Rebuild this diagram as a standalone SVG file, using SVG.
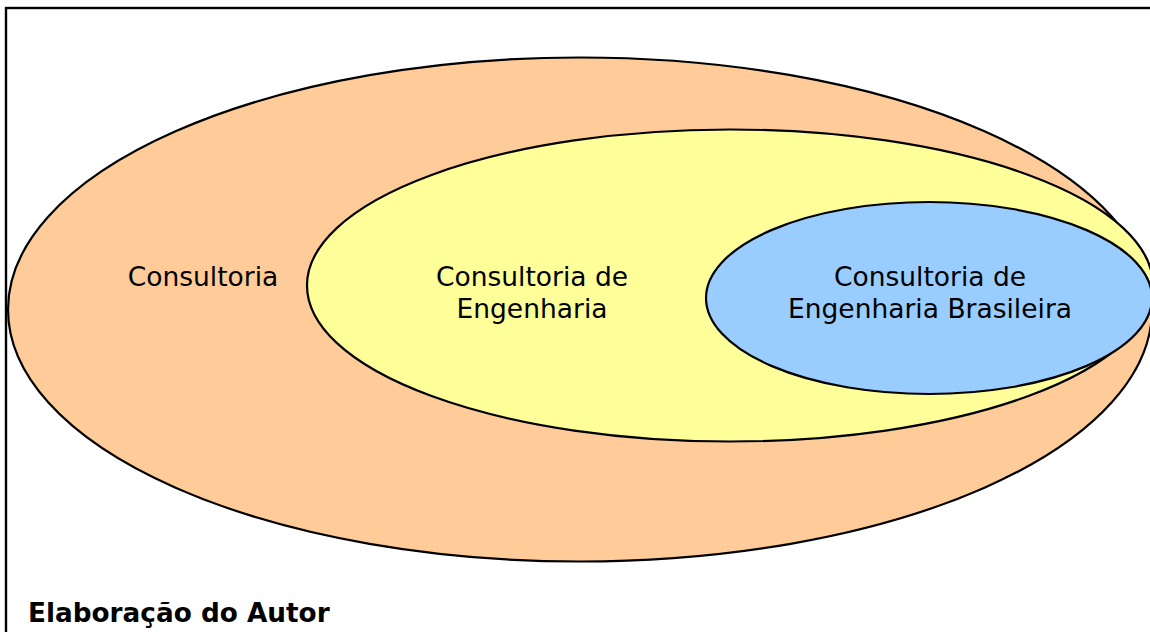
<svg xmlns="http://www.w3.org/2000/svg" width="1150" height="632" viewBox="0 0 1150 632">
<style>
.e{stroke:#000;stroke-width:2.2}
.t{font-family:"DejaVu Sans",Verdana,sans-serif;font-size:26.5px;fill:#000;text-anchor:middle}
.b{font-family:"DejaVu Sans",Verdana,sans-serif;font-size:26.3px;font-weight:bold;fill:#000}
</style>
<rect width="1150" height="632" fill="#fff"/>
<rect x="6" y="8" width="1160" height="640" fill="none" stroke="#000" stroke-width="2.4"/>
<g id="consultoria">
<ellipse class="e" cx="580" cy="309.5" rx="572" ry="252" fill="#ffcc99"/>
<text class="t" x="203" y="286">Consultoria</text>
</g>
<g id="consultoria-engenharia">
<ellipse class="e" cx="730" cy="285.5" rx="423" ry="156" fill="#ffff99"/>
<text class="t" x="532" y="286">Consultoria de</text>
<text class="t" x="532" y="318">Engenharia</text>
</g>
<g id="consultoria-engenharia-brasileira">
<ellipse class="e" cx="929" cy="298" rx="223" ry="96" fill="#99ccff"/>
<text class="t" x="930" y="286">Consultoria de</text>
<text class="t" x="930" y="318">Engenharia Brasileira</text>
</g>
<g id="connectors"/>
<text class="b" x="28" y="622">Elaboração do Autor</text>
</svg>
